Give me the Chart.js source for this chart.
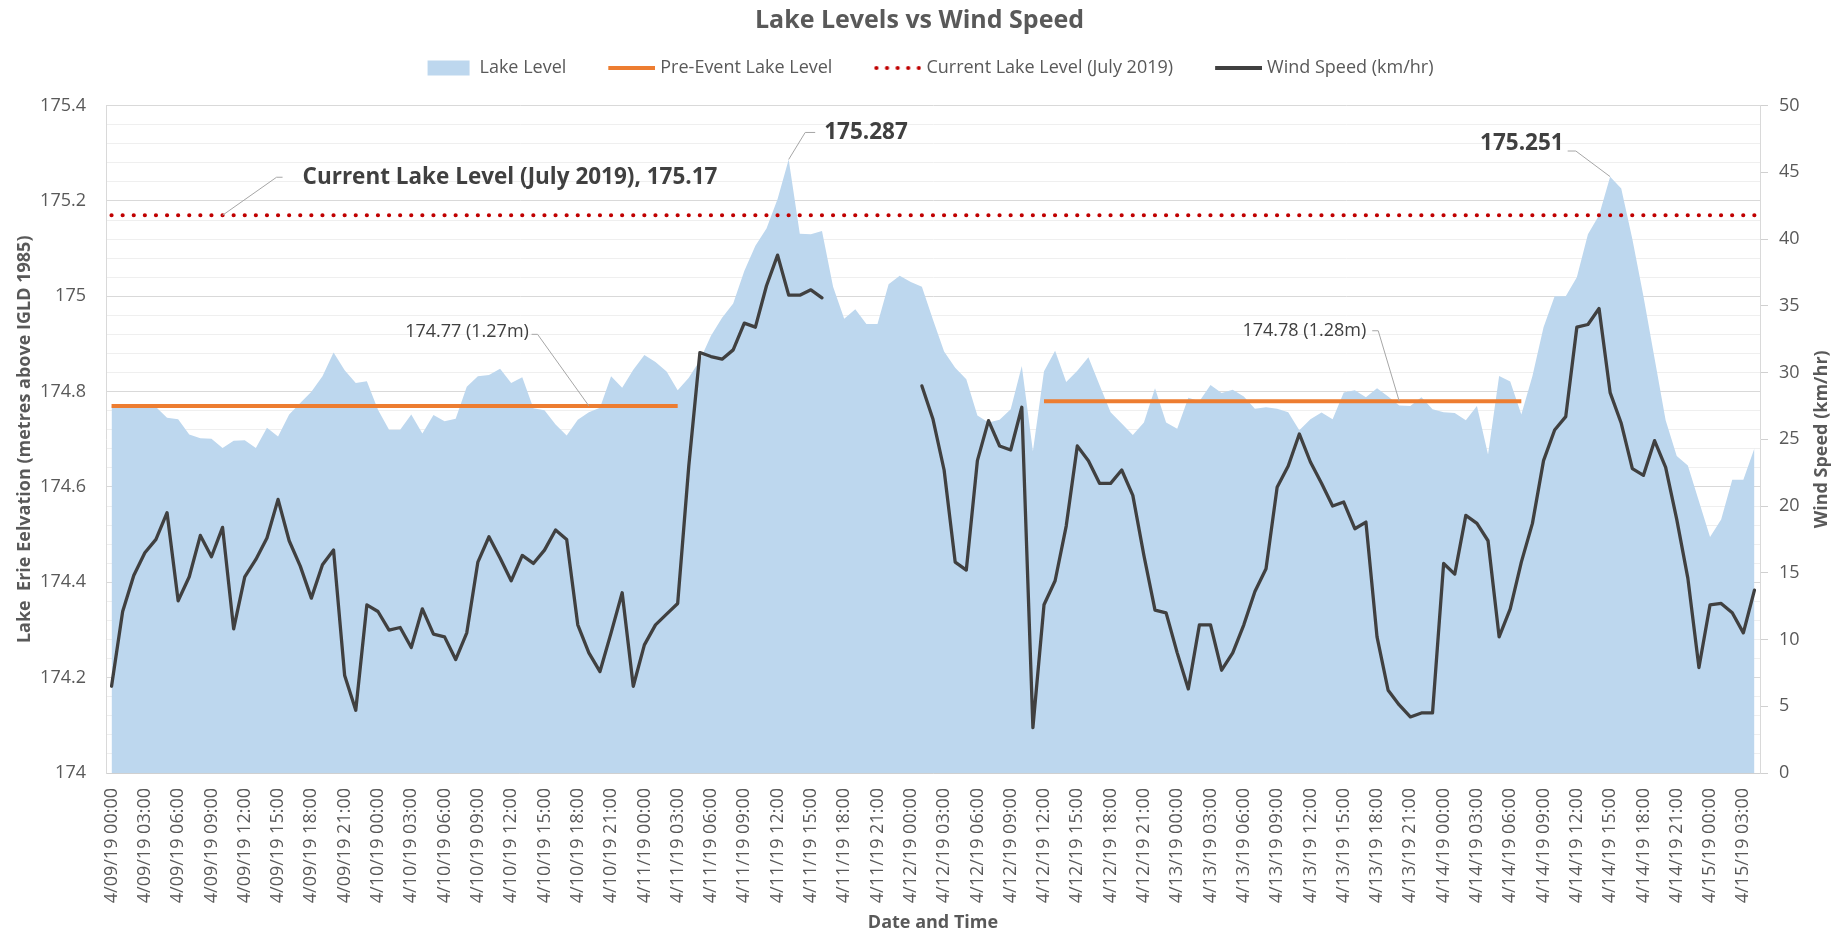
<!DOCTYPE html>
<html>
<head>
<meta charset="utf-8">
<script src="https://cdn.jsdelivr.net/npm/chart.js@4.4.1/dist/chart.umd.min.js"></script>
<style>
  html, body { margin: 0; padding: 0; background: #ffffff; }
  #wrap { width: 1839px; height: 934px; position: relative; }
</style>
</head>
<body>
<div id="wrap"><canvas id="chart"></canvas></div>
<script>
// ---------------- DATA ----------------
// Hourly categories, 4/09/19 00:00 .. 4/15/19 04:00
const startDay = 9;
const hourCount = 149;
const categories = [];
for (let h = 0; h < hourCount; h++) {
  const day = startDay + Math.floor(h / 24);
  const hr = h % 24;
  categories.push('4/' + String(day).padStart(2, '0') + '/19 ' + String(hr).padStart(2, '0') + ':00');
}
const tickEveryHours = 3;

// Lake level (m, IGLD 1985), hourly
const lakeLevel = [
  174.770,174.770,174.772,174.770,174.768,174.745,174.742,174.710,174.702,174.701,
  174.682,174.697,174.698,174.682,174.724,174.706,174.752,174.776,174.800,174.832,
  174.882,174.845,174.818,174.822,174.762,174.720,174.720,174.752,174.712,174.751,
  174.738,174.743,174.810,174.832,174.835,174.848,174.818,174.830,174.765,174.761,
  174.731,174.708,174.741,174.757,174.766,174.832,174.808,174.846,174.877,174.862,
  174.842,174.803,174.829,174.866,174.917,174.955,174.985,175.053,175.106,175.142,
  175.204,175.287,175.131,175.130,175.137,175.020,174.953,174.973,174.942,174.942,
  175.025,175.043,175.030,175.020,174.951,174.884,174.850,174.826,174.750,174.735,
  174.741,174.763,174.854,174.675,174.843,174.886,174.820,174.844,174.872,174.814,
  174.757,174.733,174.709,174.735,174.807,174.735,174.722,174.787,174.780,174.814,
  174.797,174.804,174.790,174.764,174.767,174.764,174.757,174.719,174.742,174.756,
  174.742,174.798,174.803,174.788,174.807,174.790,174.771,174.770,174.788,174.763,
  174.757,174.755,174.740,174.770,174.668,174.833,174.821,174.752,174.833,174.935,
  175.000,175.000,175.040,175.130,175.170,175.251,175.226,175.120,175.000,174.870,
  174.740,174.665,174.645,174.570,174.495,174.532,174.615,174.615,174.681
];

// Wind speed (km/hr), hourly, null = no reading
const windSpeed = [
  6.5,12.1,14.8,16.5,17.5,19.5,12.9,14.7,17.8,16.2,
  18.4,10.8,14.7,16.0,17.6,20.5,17.4,15.5,13.1,15.6,
  16.7,7.3,4.7,12.6,12.1,10.7,10.9,9.4,12.3,10.4,
  10.2,8.5,10.5,15.8,17.7,16.1,14.4,16.3,15.7,16.7,
  18.2,17.5,11.1,9.0,7.6,10.5,13.5,6.5,9.6,11.1,
  11.9,12.7,23.0,31.5,31.2,31.0,31.7,33.7,33.4,36.5,
  38.8,35.8,35.8,36.2,35.6,null,null,null,null,null,
  null,null,null,29.0,26.5,22.7,15.8,15.2,23.4,26.4,
  24.5,24.2,27.4,3.4,12.6,14.4,18.5,24.5,23.4,21.7,
  21.7,22.7,20.8,16.3,12.2,12.0,9.0,6.3,11.1,11.1,
  7.7,9.0,11.1,13.6,15.3,21.4,23.0,25.4,23.3,21.7,
  20.0,20.3,18.3,18.8,10.2,6.2,5.1,4.2,4.5,4.5,
  15.7,14.9,19.3,18.7,17.4,10.2,12.3,15.8,18.7,23.4,
  25.7,26.7,33.4,33.6,34.8,28.5,26.2,22.8,22.3,24.9,
  22.9,19.0,14.6,7.9,12.6,12.7,12.0,10.5,13.7
];

// Pre-event lake levels (level held over a range of hours)
const preEventFrom   = ['4/09/19 00:00', '4/12/19 12:00'];
const preEventTo     = ['4/11/19 03:00', '4/14/19 07:00'];
const preEventLevels = [174.77, 174.78];
const preEventLabels = ['174.77 (1.27m)', '174.78 (1.28m)'];

// Current lake level (July 2019)
const currentLakeLevel = 175.17;

// Axis ranges / ticks
const levelMin = 174, levelMax = 175.4, levelMajor = 0.2, levelMinor = 0.04;
const windMin = 0, windMax = 50, windStep = 5;

// -------------- derived series --------------
const preEvent = categories.map(() => null);
preEventLevels.forEach((lvl, k) => {
  const a = categories.indexOf(preEventFrom[k]);
  const b = categories.indexOf(preEventTo[k]);
  for (let i = a; i <= b; i++) preEvent[i] = lvl;
});
const currentLine = categories.map(() => currentLakeLevel);

// -------------- styles --------------
const FONT = "'Open Sans', 'DejaVu Sans', sans-serif";
Chart.defaults.font.family = FONT;
const TEXT = '#595959';
const LAKE_FILL = '#BDD7EE';
const ORANGE = '#ED7D31';
const RED = '#C00000';
const WIND = '#404040';

function makeSymbol(w, draw) {
  const c = document.createElement('canvas');
  c.width = w; c.height = 16;
  const g = c.getContext('2d');
  draw(g);
  return c;
}
// box symbol is 65 wide (legend slot); line symbols are 73 wide, centred on the same slot
const legendSymbols = [
  makeSymbol(65, g => { g.fillStyle = LAKE_FILL; g.fillRect(22, 0.5, 42, 15); }),
  makeSymbol(73, g => { g.strokeStyle = ORANGE; g.lineWidth = 4; g.beginPath(); g.moveTo(26, 8); g.lineTo(73, 8); g.stroke(); }),
  makeSymbol(73, g => { g.fillStyle = RED; for (let k = 0; k < 5; k++) { g.beginPath(); g.arc(28 + k * 10.6, 8, 2.1, 0, Math.PI * 2); g.fill(); } }),
  makeSymbol(73, g => { g.strokeStyle = WIND; g.lineWidth = 4; g.beginPath(); g.moveTo(26, 8); g.lineTo(73, 8); g.stroke(); })
];

const isMajor = v => Math.abs(Math.round(v / levelMajor) - v / levelMajor) < 1e-6;

// annotation labels anchored to data points (offsets are label layout only)
const annotations = [
  { at: '4/09/19 10:00', value: currentLakeLevel, text: 'Current Lake Level (July 2019), ' + currentLakeLevel,
    bold: true, size: 22.5, align: 'left', dx: 80, dy: -38, leader: [[54, -38], [60, -38]] },
  { at: '4/11/19 13:00', value: lakeLevel[61], text: lakeLevel[61].toFixed(3),
    bold: true, size: 22.5, align: 'left', dx: 35.5, dy: -26.5, leader: [[16.5, -27], [26.5, -27]] },
  { at: '4/14/19 15:00', value: lakeLevel[135], text: lakeLevel[135].toFixed(3),
    bold: true, size: 22.5, align: 'right', dx: -46.5, dy: -33.3, leader: [[-34.3, -25.6], [-42.5, -25.6]] },
  { at: '4/10/19 19:00', value: preEventLevels[0], text: preEventLabels[0],
    bold: false, size: 18, align: 'right', dx: -60, dy: -74.2, leader: [[-51.3, -71.6], [-57.3, -71.6]] },
  { at: '4/13/19 20:00', value: preEventLevels[1], text: preEventLabels[1],
    bold: false, size: 18, align: 'right', dx: -33, dy: -70.4, leader: [[-21, -70.4], [-27, -70.4]] }
];

const annotationPlugin = {
  id: 'pointLabels',
  afterDatasetsDraw(chart) {
    const { ctx, scales } = chart;
    const x = scales.x, y = scales.y;
    ctx.save();
    annotations.forEach(a => {
      const ax = x.getPixelForValue(categories.indexOf(a.at));
      const ay = y.getPixelForValue(a.value);
      ctx.strokeStyle = '#A6A6A6';
      ctx.lineWidth = 1;
      ctx.beginPath();
      ctx.moveTo(ax, ay);
      a.leader.forEach(p => ctx.lineTo(ax + p[0], ay + p[1]));
      ctx.stroke();
      ctx.font = (a.bold ? 'bold ' : '') + a.size + 'px ' + FONT;
      ctx.fillStyle = '#404040';
      ctx.textAlign = a.align;
      ctx.textBaseline = 'middle';
      ctx.fillText(a.text, ax + a.dx, ay + a.dy);
    });
    ctx.restore();
  }
};

const rightTitlePlugin = {
  id: 'rightTitle',
  afterDraw(chart) {
    const { ctx, chartArea, scales } = chart;
    const s = scales.y2;
    ctx.save();
    ctx.translate(s.right - 17, (chartArea.top + chartArea.bottom) / 2);
    ctx.rotate(-Math.PI / 2);
    ctx.font = 'bold 18px ' + FONT;
    ctx.fillStyle = TEXT;
    ctx.textAlign = 'center';
    ctx.textBaseline = 'middle';
    ctx.fillText('Wind Speed (km/hr)', 0, 0);
    ctx.restore();
  }
};

new Chart(document.getElementById('chart'), {
  type: 'line',
  data: {
    labels: categories,
    datasets: [
      { label: 'Lake Level', data: lakeLevel, yAxisID: 'y', fill: 'origin',
        backgroundColor: LAKE_FILL, borderColor: 'rgba(0,0,0,0)', borderWidth: 0,
        pointRadius: 0, tension: 0, order: 3 },
      { label: 'Pre-Event Lake Level', data: preEvent, yAxisID: 'y', fill: false,
        borderColor: ORANGE, borderWidth: 4, borderCapStyle: 'butt',
        pointRadius: 0, spanGaps: false, order: 2 },
      { label: 'Current Lake Level (July 2019)', data: currentLine, yAxisID: 'y', fill: false,
        borderColor: RED, borderWidth: 4.2, borderDash: [0, 11.1], borderCapStyle: 'round',
        pointRadius: 0, order: 1 },
      { label: 'Wind Speed (km/hr)', data: windSpeed, yAxisID: 'y2', fill: false,
        borderColor: WIND, borderWidth: 3.3, borderJoinStyle: 'round', borderCapStyle: 'round',
        pointRadius: 0, spanGaps: false, tension: 0, order: 0 }
    ]
  },
  options: {
    responsive: true,
    maintainAspectRatio: false,
    animation: false,
    devicePixelRatio: 1,
    layout: { padding: 0 },
    events: [],
    plugins: {
      tooltip: { enabled: false },
      title: {
        display: true, text: 'Lake Levels vs Wind Speed', color: TEXT,
        font: { size: 25, weight: 'bold' }, padding: { top: 6, bottom: 3 }
      },
      subtitle: {
        display: true, text: '', weight: 500,
        font: { size: 1, lineHeight: 1 }, padding: { top: 0, bottom: 17.6 }
      },
      legend: {
        display: true, position: 'top', align: 'center',
        labels: {
          usePointStyle: true, pointStyleWidth: 65, padding: 20,
          color: TEXT, font: { size: 18 },
          generateLabels(chart) {
            return chart.data.datasets.map((ds, i) => ({
              text: ds.label, datasetIndex: i, pointStyle: legendSymbols[i],
              fillStyle: 'rgba(0,0,0,0)', strokeStyle: 'rgba(0,0,0,0)', lineWidth: 0,
              hidden: !chart.isDatasetVisible(i), fontColor: TEXT
            }));
          }
        }
      }
    },
    scales: {
      x: {
        type: 'category', offset: true,
        afterFit(s) { s.height = 161; },
        grid: { display: false, drawTicks: false },
        border: { display: true, color: '#D0D0D0' },
        ticks: {
          autoSkip: false, minRotation: 90, maxRotation: 90, padding: 15,
          color: TEXT, font: { size: 18 },
          callback(v, i) { return i % tickEveryHours === 0 ? this.getLabelForValue(v) : null; }
        },
        title: { display: true, text: 'Date and Time', color: TEXT,
          font: { size: 18, weight: 'bold' }, padding: { top: 0, bottom: 0 } }
      },
      y: {
        position: 'left', min: levelMin, max: levelMax,
        afterFit(s) { s.width = 106; },
        border: { display: true, color: '#D9D9D9' },
        grid: {
          drawTicks: false, lineWidth: 1,
          color: ctx => (ctx.tick && isMajor(ctx.tick.value)) ? '#D9D9D9' : '#EFEFEF'
        },
        ticks: {
          stepSize: levelMinor, maxTicksLimit: 100, autoSkip: false, padding: 20,
          color: TEXT, font: { size: 18 },
          callback: v => isMajor(v) ? String(Math.round(v * 10) / 10) : ''
        },
        title: { display: true, text: 'Lake  Erie Eelvation (metres above IGLD 1985)', color: TEXT,
          font: { size: 18, weight: 'bold' }, padding: { top: 14, bottom: 0 } }
      },
      y2: {
        position: 'right', min: windMin, max: windMax,
        afterFit(s) { s.width = 79; },
        border: { display: true, color: '#D9D9D9' },
        grid: { drawOnChartArea: false, drawTicks: true, tickLength: 8, color: '#D0D0D0' },
        ticks: { stepSize: windStep, padding: 11, color: TEXT, font: { size: 18 } },
        title: { display: false }
      }
    }
  },
  plugins: [annotationPlugin, rightTitlePlugin]
});
</script>
</body>
</html>
